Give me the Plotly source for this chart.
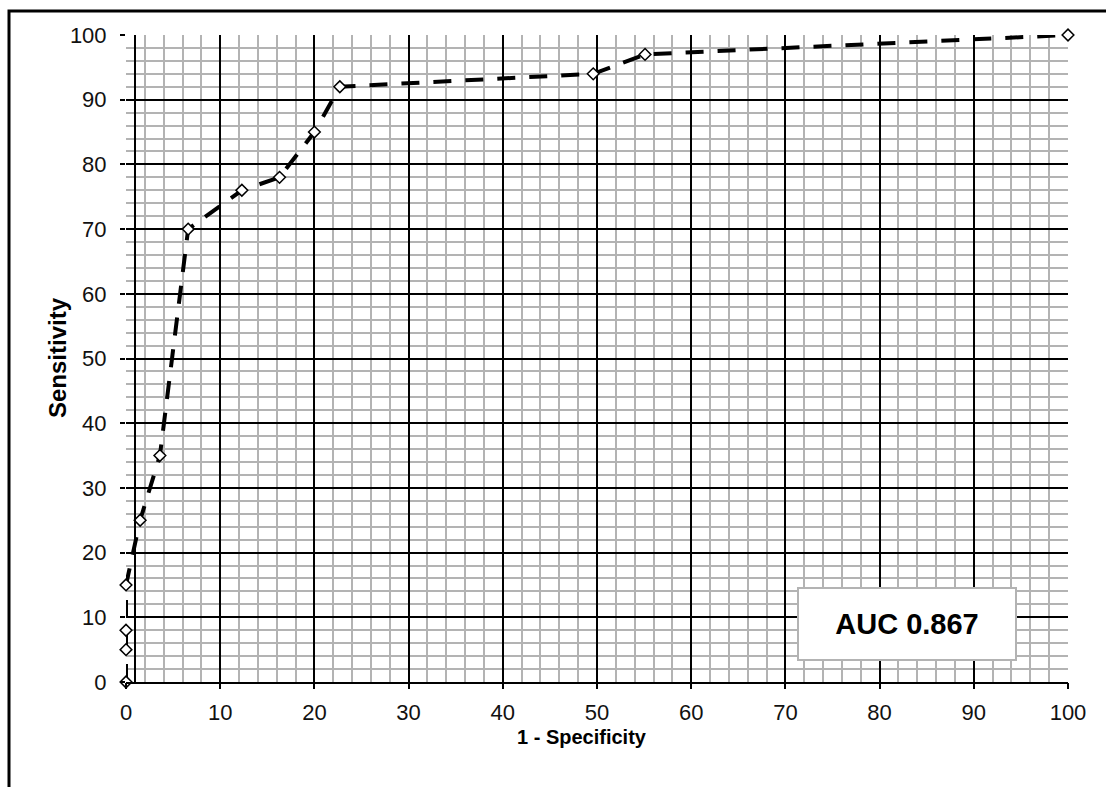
import plotly.graph_objects as go

# Data
fpr = [0, 0, 0, 0, 1.5, 3.6, 6.6, 12.3, 16.3, 20.0, 22.7, 49.6, 55.1, 100]
sens = [0, 5, 8, 15, 25, 35, 70, 76, 78, 85, 92, 94, 97, 100]
tick_vals = [0, 10, 20, 30, 40, 50, 60, 70, 80, 90, 100]
major_grid = [10, 20, 30, 40, 50, 60, 70, 80, 90]
minor_grid = [0, 2, 4, 6, 8, 12, 14, 16, 18, 22, 24, 26, 28, 32, 34, 36, 38,
              42, 44, 46, 48, 52, 54, 56, 58, 62, 64, 66, 68, 72, 74, 76, 78,
              82, 84, 86, 88, 92, 94, 96, 98, 100]
auc_text = "AUC 0.867"
x_title = "1 - Specificity"
y_title = "Sensitivity"

W, H = 1106, 787
L, R, T, B = 126, 38, 35, 105
pw, ph = W - L - R, H - T - B

def px(x):
    return (x - L) / pw

def py(y):
    return (H - B - y) / ph

FONT = "Liberation Sans, Arial, sans-serif"
GRAY = "#b3b3b3"

fig = go.Figure()
# main axes: labels & ticks only
fig.add_trace(go.Scatter(x=fpr, y=sens, mode="none", showlegend=False, hoverinfo="skip"))
# minor grid axes
fig.add_trace(go.Scatter(x=fpr, y=sens, xaxis="x2", yaxis="y2", mode="none",
                         showlegend=False, hoverinfo="skip"))
# major grid axes + data
fig.add_trace(go.Scatter(
    x=fpr, y=sens, xaxis="x3", yaxis="y3",
    mode="lines+markers",
    line=dict(color="black", width=4, dash="18px,14px"),
    marker=dict(symbol="diamond", size=9, color="white",
                line=dict(color="black", width=1.5)),
    cliponaxis=False, showlegend=False, hoverinfo="skip",
))

common = dict(range=[0, 100], zeroline=False)
fig.update_layout(
    width=W, height=H,
    margin=dict(l=L, r=R, t=T, b=B),
    paper_bgcolor="white", plot_bgcolor="white",
    font=dict(family=FONT, color="black"),
    xaxis=dict(
        **common, tickvals=tick_vals, showgrid=False,
        ticks="outside", ticklen=6, tickwidth=2, tickcolor="black",
        ticklabelstandoff=5, showline=False,
        tickfont=dict(size=22, color="#111"),
    ),
    yaxis=dict(
        **common, tickvals=tick_vals, showgrid=False,
        ticks="outside", ticklen=5, tickwidth=2, tickcolor="black",
        ticklabelstandoff=9, showline=False,
        tickfont=dict(size=22, color="#111"),
    ),
    xaxis2=dict(
        **common, overlaying="x", anchor="y2", tickvals=minor_grid,
        showgrid=True, gridcolor=GRAY, gridwidth=2,
        showticklabels=False, ticks="", showline=False,
    ),
    yaxis2=dict(
        **common, overlaying="y", anchor="x2", tickvals=minor_grid,
        showgrid=True, gridcolor=GRAY, gridwidth=2,
        showticklabels=False, ticks="", showline=False,
    ),
    xaxis3=dict(
        **common, overlaying="x", anchor="y3", tickvals=major_grid,
        showgrid=True, gridcolor="black", gridwidth=2,
        showticklabels=False, ticks="", showline=True, linecolor="black", linewidth=2,
    ),
    yaxis3=dict(
        **common, overlaying="y", anchor="free", position=9 / pw, side="left",
        tickvals=major_grid,
        showgrid=True, gridcolor="black", gridwidth=2,
        showticklabels=False, ticks="", showline=True, linecolor="black", linewidth=2,
    ),
    annotations=[
        dict(text="<b>" + x_title + "</b>", xref="paper", yref="paper", x=px(582), y=py(737),
             xanchor="center", yanchor="middle", showarrow=False,
             font=dict(family=FONT, size=20, color="black")),
        dict(text="<b>" + y_title + "</b>", xref="paper", yref="paper", x=px(57), y=py(358),
             xanchor="center", yanchor="middle", showarrow=False, textangle=-90,
             font=dict(family=FONT, size=24, color="black")),
        dict(text="<b>" + auc_text + "</b>", xref="paper", yref="paper",
             x=px(907), y=py(624), xanchor="center", yanchor="middle",
             showarrow=False, width=216, height=70, bgcolor="white",
             bordercolor=GRAY, borderwidth=2, borderpad=0,
             font=dict(family=FONT, size=29, color="black")),
    ],
    shapes=[
        dict(type="rect", xref="paper", yref="paper",
             x0=px(9), x1=px(1112), y0=py(792), y1=py(11),
             line=dict(color="black", width=3), fillcolor="rgba(0,0,0,0)", layer="above"),
    ],
)

fig.write_html("out.html", config={"displayModeBar": False},
               post_script="document.body.style.margin='0';")
